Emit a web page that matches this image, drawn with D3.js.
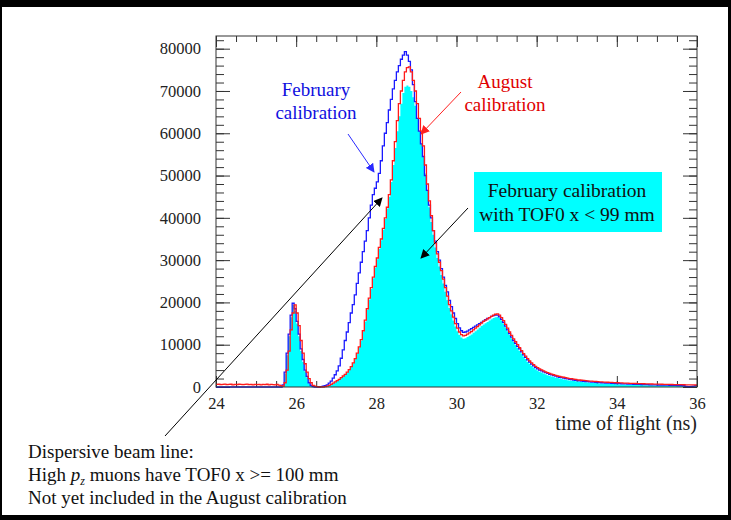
<!DOCTYPE html>
<html>
<head>
<meta charset="utf-8">
<script src="https://cdn.jsdelivr.net/npm/d3@7"></script>
<style>
  body { margin: 0; background: #fff; }
  text { font-family: "Liberation Serif", "Times New Roman", serif; }
</style>
</head>
<body>
<script>
const width = 731, height = 520;

// histogram bins: 0.05 ns wide, from 24.0 to 36.0 ns (one row = 1 ns)
const binStart = 24, binWidth = 0.05;

// February calibration (blue line)
const february = [
  0,0,0,0,0,0,0,0,0,0,0,0,0,0,0,0,0,0,0,0,
  0,0,0,0,0,0,0,0,0,0,0,0,0,500,3500,8000,12500,17000,19800,18500,
  15500,12500,9000,6500,4000,2500,1000,400,100,0,0,0,100,200,300,500,900,1400,2100,2900,
  3800,5000,6800,8800,11000,13000,15200,17500,19500,21800,24500,27000,29500,32000,34500,37000,40000,43000,45500,47000,
  48500,50500,53500,57000,60000,62500,65500,68000,70500,72500,74500,76000,77500,78500,79300,78500,77000,75000,71500,67500,
  63500,60500,57500,54500,50000,46500,43000,40000,37000,34500,32000,30000,28000,26000,24000,22500,20500,19000,17500,16200,
  15000,14000,13300,12900,13000,13200,13500,13800,14100,14400,14700,15000,15300,15600,15900,16200,16400,16700,16900,17000,
  17000,16600,16000,15300,14400,13500,12600,11800,11000,10300,9600,9000,8300,7600,7000,6400,5900,5400,5000,4600,
  4300,4000,3800,3600,3400,3200,3000,2850,2700,2550,2400,2300,2200,2100,2000,1900,1800,1750,1650,1600,
  1500,1450,1400,1350,1300,1250,1200,1170,1130,1100,1050,1020,1000,970,950,920,900,880,850,830,
  800,780,760,740,720,700,680,670,650,630,610,600,580,570,550,540,520,510,500,490,
  470,460,450,440,430,420,400,390,380,370,360,350,340,300,150,100,100,120,200,300
];

// August calibration (red line)
const august = [
  600,650,550,600,700,550,600,650,500,600,550,650,600,550,600,700,550,600,500,600,
  550,600,500,600,550,650,500,600,550,500,600,450,300,200,1000,4000,8500,13500,17500,19400,
  17500,14500,11000,8000,5500,3500,2000,1000,400,200,100,0,0,0,100,200,400,600,900,1200,
  1500,1800,2200,2600,3000,3500,4100,4800,5700,6700,8000,9500,11200,13300,15800,18500,21000,23500,26000,28500,
  30500,33000,35000,37500,40000,42500,45500,49000,53500,58000,63000,67000,70000,72500,74500,75500,75700,74500,72500,70000,
  67000,63500,60500,57000,52500,48000,44000,40500,37000,34000,31500,29500,27500,25500,23500,21500,19500,18000,16500,15000,
  13900,13000,12400,12100,12200,12500,12800,13100,13500,13900,14300,14700,15100,15500,15800,16100,16400,16700,17000,17200,
  17300,17000,16400,15700,14800,13900,13000,12200,11400,10700,10000,9300,8600,7900,7300,6700,6200,5700,5300,4900,
  4600,4300,4050,3800,3600,3400,3200,3050,2900,2750,2600,2500,2400,2300,2200,2100,2000,1950,1850,1800,
  1700,1650,1600,1550,1500,1450,1400,1370,1330,1300,1250,1220,1200,1170,1150,1120,1100,1080,1050,1030,
  1000,980,960,940,920,900,880,870,850,830,810,800,780,770,750,740,720,710,700,690,
  670,660,650,640,630,620,600,590,580,570,560,550,540,530,520,510,500,490,480,470
];

// February calibration with TOF0 x < 99 mm (cyan fill)
const februaryCut = [
  0,0,0,0,0,0,0,0,0,0,0,0,0,0,0,0,0,0,0,0,
  0,0,0,0,0,0,0,0,0,0,0,0,0,400,3200,7500,12000,16500,19400,18000,
  15000,12000,8500,6000,3700,2300,900,300,100,0,0,0,0,0,100,200,350,550,800,1100,
  1400,1700,2100,2500,2900,3400,4000,4700,5600,6600,7900,9400,11000,13100,15500,18200,20700,23200,25700,28200,
  30200,32700,34700,37200,39700,42200,45000,48500,52500,56500,60500,64000,67000,69500,71000,71300,71000,70000,68500,66500,
  63500,60500,57500,54500,50500,46500,42500,39000,36000,33000,30500,28500,26500,24500,22500,20500,18700,17200,15700,14300,
  13200,12300,11700,11400,11500,11800,12100,12400,12800,13200,13600,14000,14400,14800,15100,15400,15700,16000,16300,16500,
  16600,16300,15700,15000,14100,13200,12300,11500,10700,10000,9300,8600,7900,7200,6600,6000,5500,5000,4600,4200,
  3900,3600,3400,3200,3000,2800,2650,2500,2350,2200,2100,2000,1900,1800,1700,1600,1550,1450,1400,1350,
  1300,1250,1200,1150,1100,1050,1000,980,950,920,880,850,820,800,780,750,730,700,680,660,
  640,620,600,580,560,550,530,520,500,490,470,460,450,440,420,410,400,390,380,370,
  360,350,340,330,320,310,300,290,280,270,260,250,240,230,220,210,200,190,180,170
];

const xTicks = [24, 26, 28, 30, 32, 34, 36];
const yTicks = [0, 10000, 20000, 30000, 40000, 50000, 60000, 70000, 80000];

const svg = d3.select("body").append("svg")
    .attr("width", width)
    .attr("height", height);

svg.append("rect").attr("width", width).attr("height", height).attr("fill", "#fff");

const x = d3.scaleLinear().domain([24, 36]).range([216, 697]);
const y = d3.scaleLinear().domain([0, 83000]).range([387, 36]);

// turn a bin array into step points
function steps(vals) {
  const pts = vals.map((v, i) => ({t: binStart + i * binWidth, v}));
  pts.push({t: binStart + vals.length * binWidth, v: vals[vals.length - 1]});
  return pts;
}

const minorX = d3.range(24, 36.01, 0.5);
const minorY = d3.range(0, 83000, 2000);

// axes, ticks pointing inwards
svg.append("g").attr("transform", "translate(0,387)")
  .call(d3.axisBottom(x).tickValues(xTicks).tickSize(-11).tickPadding(10).tickFormat(d3.format("d")));
svg.append("g").attr("transform", "translate(0,387)")
  .call(d3.axisBottom(x).tickValues(minorX).tickSize(-6).tickFormat(""));
svg.append("g").attr("transform", "translate(0,36)")
  .call(d3.axisTop(x).tickValues(xTicks).tickSize(-11).tickFormat(""));
svg.append("g").attr("transform", "translate(0,36)")
  .call(d3.axisTop(x).tickValues(minorX).tickSize(-6).tickFormat(""));

svg.append("g").attr("transform", "translate(216,0)")
  .call(d3.axisLeft(y).tickValues(yTicks).tickSize(-14).tickPadding(15).tickFormat(d3.format("d")));
svg.append("g").attr("transform", "translate(216,0)")
  .call(d3.axisLeft(y).tickValues(minorY).tickSize(-8).tickFormat(""));
svg.append("g").attr("transform", "translate(697,0)")
  .call(d3.axisRight(y).tickValues(yTicks).tickSize(-14).tickFormat(""));
svg.append("g").attr("transform", "translate(697,0)")
  .call(d3.axisRight(y).tickValues(minorY).tickSize(-8).tickFormat(""));

svg.selectAll(".domain").remove();
svg.selectAll(".tick line").attr("stroke", "#333");
svg.selectAll(".tick text")
  .attr("font-size", 16.5)
  .attr("fill", "#222");

// histograms
const area = d3.area().curve(d3.curveStepAfter)
  .x(d => x(d.t)).y0(y(0)).y1(d => y(d.v));
const line = d3.line().curve(d3.curveStepAfter)
  .x(d => x(d.t)).y(d => y(d.v));

svg.append("path").datum(steps(februaryCut))
  .attr("d", area).attr("fill", "#00ffff");
svg.append("path").datum(steps(february))
  .attr("d", line).attr("fill", "none").attr("stroke", "#1a1aff").attr("stroke-width", 1.3);
svg.append("path").datum(steps(august))
  .attr("d", line).attr("fill", "none").attr("stroke", "#ff1a1a").attr("stroke-width", 1.3);

// frame
svg.append("rect")
  .attr("x", 216).attr("y", 36).attr("width", 697 - 216).attr("height", 387 - 36)
  .attr("fill", "none").attr("stroke", "#333");

svg.append("text")
  .attr("x", 697).attr("y", 430)
  .attr("text-anchor", "end")
  .attr("font-size", 20).attr("fill", "#222")
  .text("time of flight (ns)");

// arrows
const defs = svg.append("defs");
[["blue", "#2a2aff"], ["red", "#ff2020"], ["black", "#000"]].forEach(([id, c]) => {
  defs.append("marker")
    .attr("id", "head-" + id)
    .attr("viewBox", "0 0 10 10")
    .attr("refX", 9).attr("refY", 5)
    .attr("markerWidth", 9).attr("markerHeight", 9)
    .attr("markerUnits", "userSpaceOnUse")
    .attr("orient", "auto")
    .append("path").attr("d", "M0,0 L10,5 L0,10 z").attr("fill", c);
});

function arrow(x1, y1, x2, y2, id, c) {
  svg.append("line")
    .attr("x1", x1).attr("y1", y1).attr("x2", x2).attr("y2", y2)
    .attr("stroke", c).attr("stroke-width", 1)
    .attr("marker-end", "url(#head-" + id + ")");
}

arrow(348, 134, 374, 172, "blue", "#2a2aff");
arrow(461, 92, 421, 134, "red", "#ff2020");
arrow(468, 208, 421, 258, "black", "#000");
arrow(165, 436, 382, 198, "black", "#000");

// labels
svg.append("text").attr("x", 316).attr("y", 96).attr("text-anchor", "middle")
  .attr("font-size", 19).attr("fill", "#1010e0").text("February");
svg.append("text").attr("x", 316).attr("y", 119).attr("text-anchor", "middle")
  .attr("font-size", 19).attr("fill", "#1010e0").text("calibration");

svg.append("text").attr("x", 505).attr("y", 88).attr("text-anchor", "middle")
  .attr("font-size", 19).attr("fill", "#e00000").text("August");
svg.append("text").attr("x", 505).attr("y", 111).attr("text-anchor", "middle")
  .attr("font-size", 19).attr("fill", "#e00000").text("calibration");

svg.append("rect").attr("x", 474).attr("y", 172).attr("width", 188).attr("height", 60)
  .attr("fill", "#00ffff");
svg.append("text").attr("x", 567).attr("y", 197).attr("text-anchor", "middle")
  .attr("font-size", 19.5).attr("fill", "#111").text("February calibration");
svg.append("text").attr("x", 567).attr("y", 221).attr("text-anchor", "middle")
  .attr("font-size", 19.5).attr("fill", "#111").text("with TOF0 x < 99 mm");

const note = svg.append("g").attr("font-size", 19).attr("fill", "#111");
note.append("text").attr("x", 28).attr("y", 458).text("Dispersive beam line:");
const l2 = note.append("text").attr("x", 28).attr("y", 481);
l2.append("tspan").text("High ");
l2.append("tspan").attr("font-style", "italic").text("p");
l2.append("tspan").attr("font-style", "italic").attr("font-size", 12).attr("dy", 4).text("z");
l2.append("tspan").attr("dy", -4).text(" muons have TOF0 x >= 100 mm");
note.append("text").attr("x", 28).attr("y", 504).text("Not yet included in the August calibration");

// slide border
svg.append("rect").attr("x", 0).attr("y", 0).attr("width", width).attr("height", 7).attr("fill", "#000");
svg.append("rect").attr("x", 0).attr("y", 0).attr("width", 2).attr("height", height).attr("fill", "#000");
svg.append("rect").attr("x", 728).attr("y", 0).attr("width", 3).attr("height", height).attr("fill", "#000");
svg.append("rect").attr("x", 0).attr("y", 515).attr("width", width).attr("height", 5).attr("fill", "#000");
</script>
</body>
</html>
